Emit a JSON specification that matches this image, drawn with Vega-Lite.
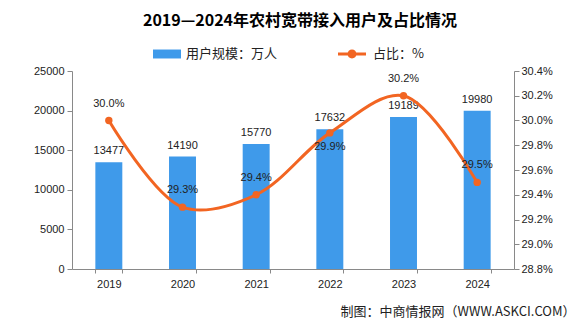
{
  "$schema": "https://vega.github.io/schema/vega-lite/v6.json",
  "autosize": "none",
  "width": 442,
  "height": 198,
  "padding": {"left": 72, "top": 71, "right": 68, "bottom": 58},
  "background": "white",
  "title": {
    "text": "2019—2024年农村宽带接入用户及占比情况",
    "font": "Noto Sans CJK SC",
    "fontSize": 16,
    "fontWeight": "bold",
    "color": "#000000",
    "anchor": "middle",
    "frame": "group",
    "dx": 7,
    "offset": 11
  },
  "data": {
    "values": [
      {"year": "2019", "users": 13477, "ratio": 30.0},
      {"year": "2020", "users": 14190, "ratio": 29.3},
      {"year": "2021", "users": 15770, "ratio": 29.4},
      {"year": "2022", "users": 17632, "ratio": 29.9},
      {"year": "2023", "users": 19189, "ratio": 30.2},
      {"year": "2024", "users": 19980, "ratio": 29.5}
    ]
  },
  "encoding": {
    "x": {
      "field": "year",
      "type": "nominal",
      "scale": {"paddingInner": 0.634, "paddingOuter": 0.317},
      "axis": {
        "labelAngle": 0,
        "tickBand": "extent",
        "domainColor": "#898989",
        "tickColor": "#898989",
        "tickSize": 4,
        "labelPadding": 5,
        "labelFont": "Liberation Sans",
        "labelFontSize": 11,
        "labelColor": "#222222",
        "title": "制图：中商情报网（WWW.ASKCI.COM）",
        "titleFont": "Noto Sans CJK SC",
        "titleFontSize": 13,
        "titleFontWeight": "normal",
        "titleColor": "#222222",
        "titleAnchor": "end",
        "titleAlign": "right",
        "titleBaseline": "middle",
        "titleX": 503,
        "titleY": 42
      }
    }
  },
  "layer": [
    {
      "encoding": {
        "y": {
          "field": "users",
          "type": "quantitative",
          "scale": {"domain": [0, 25000]},
          "axis": {
            "values": [0, 5000, 10000, 15000, 20000, 25000],
            "labelOverlap": false,
            "grid": false,
            "title": null,
            "domainColor": "#898989",
            "tickColor": "#898989",
            "tickSize": 5,
            "labelPadding": 3,
            "labelFont": "Liberation Sans",
            "labelFontSize": 11,
            "labelColor": "#222222",
            "format": "d"
          }
        }
      },
      "layer": [
        {
          "mark": {"type": "bar"},
          "encoding": {
            "fill": {
              "datum": "用户规模：万人",
              "scale": {"range": ["#3F9AEA"]},
              "legend": {
                "orient": "none",
                "legendX": 81,
                "legendY": -31,
                "title": null,
                "symbolType": "M-1,-0.32L1,-0.32L1,0.32L-1,0.32Z",
                "symbolSize": 784,
                "symbolStrokeWidth": 0,
                "labelFont": "Noto Sans CJK SC",
                "labelFontSize": 13,
                "labelColor": "#222222",
                "labelOffset": 5
              }
            }
          }
        },
        {
          "mark": {"type": "text", "baseline": "bottom", "dy": -6, "font": "Liberation Sans", "fontSize": 11, "color": "#222222"},
          "encoding": {
            "text": {"field": "users", "type": "quantitative", "format": "d"}
          }
        }
      ]
    },
    {
      "encoding": {
        "y": {
          "field": "ratio",
          "type": "quantitative",
          "scale": {"domain": [28.8, 30.4], "zero": false, "nice": false},
          "axis": {
            "orient": "right",
            "values": [28.8, 29.0, 29.2, 29.4, 29.6, 29.8, 30.0, 30.2, 30.4],
            "labelOverlap": false,
            "grid": false,
            "title": null,
            "domainColor": "#898989",
            "tickColor": "#898989",
            "tickSize": 5,
            "labelPadding": 2,
            "labelFont": "Liberation Sans",
            "labelFontSize": 11,
            "labelColor": "#222222",
            "labelExpr": "format(datum.value, '.1f') + '%'"
          }
        }
      },
      "layer": [
        {
          "mark": {"type": "line", "interpolate": "catmull-rom", "strokeWidth": 3},
          "encoding": {
            "stroke": {
              "datum": "占比：%",
              "scale": {"range": ["#F26522"]},
              "legend": {
                "orient": "none",
                "legendX": 266,
                "legendY": -31,
                "title": null,
                "symbolType": "M-1,-0.11L1,-0.11L1,0.11L-1,0.11Z M-0.32,0A0.32,0.32 0 1,1 0.32,0A0.32,0.32 0 1,1 -0.32,0Z",
                "symbolSize": 784,
                "labelFont": "Noto Sans CJK SC",
                "labelFontSize": 13,
                "labelColor": "#222222",
                "labelOffset": 7,
                "encode": {
                  "symbols": {
                    "update": {
                      "fill": {"value": "#F26522"},
                      "fillOpacity": {"value": 1},
                      "strokeWidth": {"value": 0}
                    }
                  }
                }
              }
            }
          }
        },
        {
          "mark": {"type": "point", "filled": true, "size": 55, "color": "#F26522", "opacity": 1}
        },
        {
          "transform": [
            {"filter": "datum.year != '2022'"},
            {"calculate": "format(datum.ratio, '.1f') + '%'", "as": "ratioLabel"}
          ],
          "mark": {"type": "text", "baseline": "middle", "dy": -17, "font": "Liberation Sans", "fontSize": 11, "color": "#222222"},
          "encoding": {
            "text": {"field": "ratioLabel", "type": "nominal"}
          }
        },
        {
          "transform": [
            {"filter": "datum.year == '2022'"},
            {"calculate": "format(datum.ratio, '.1f') + '%'", "as": "ratioLabel"}
          ],
          "mark": {"type": "text", "baseline": "middle", "dy": 14, "font": "Liberation Sans", "fontSize": 11, "color": "#222222"},
          "encoding": {
            "text": {"field": "ratioLabel", "type": "nominal"}
          }
        }
      ]
    }
  ],
  "resolve": {"scale": {"y": "independent"}},
  "config": {"view": {"stroke": null}}
}
